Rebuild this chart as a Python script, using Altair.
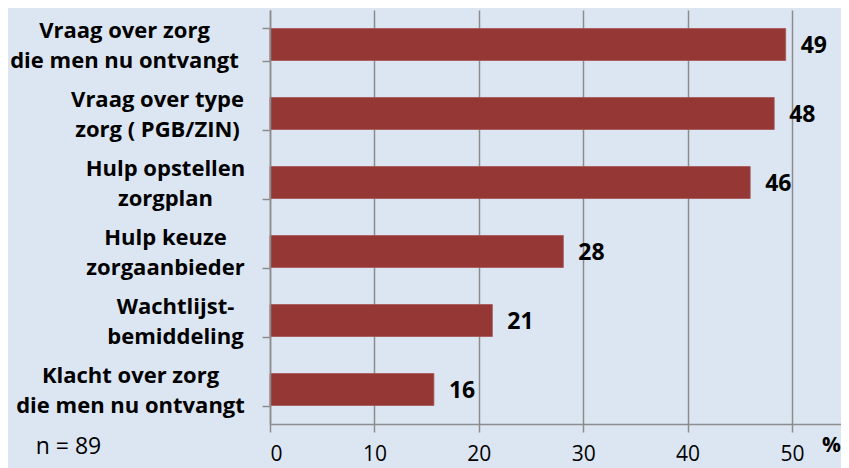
import altair as alt
import pandas as pd

# ---- data ----
categories = [
    "Vraag over zorg\ndie men nu ontvangt",
    "Vraag over type\nzorg ( PGB/ZIN)",
    "Hulp opstellen\nzorgplan",
    "Hulp keuze\nzorgaanbieder",
    "Wachtlijst-\nbemiddeling",
    "Klacht over zorg\ndie men nu ontvangt",
]
values = [49.4, 48.3, 46.0, 28.1, 21.3, 15.7]
value_labels = ["49", "48", "46", "28", "21", "16"]
x_ticks = [0, 10, 20, 30, 40, 50]
sample_note = "n = 89"
unit_label = "%"

# ---- style ----
FONT = "Open Sans"
BG = "#dce6f2"
BAR = "#953735"
GRID = "#8c8c8c"

# label blocks are centred like the original; padding per group (style only)
label_groups = [
    (["Vraag over zorg"], 138),
    (["Klacht over zorg"], 132),
    (["Vraag over type"], 105),
    (["Hulp opstellen", "Hulp keuze"], 97),
    (["Wachtlijst-"], 87),
]

df = pd.DataFrame({"cat": categories, "value": values, "label": value_labels})

y_scale = alt.Scale(domain=categories, paddingInner=0.536, paddingOuter=0.268)
x_scale = alt.Scale(domain=[0, 54.7], nice=False)


def y_axis(names, pad, primary):
    lst = ",".join("'" + n + "'" for n in names)
    expr = ("indexof([" + lst + "], split(datum.value, '\\n')[0]) >= 0 ? "
            "split(datum.value, '\\n') : ''")
    kw = dict(
        labelExpr=expr, labelPadding=pad, labelAlign="center", labelBaseline="middle",
        labelOffset=-14,
        labelFont=FONT, labelFontSize=22, labelFontWeight="bold", labelColor="black",
        labelLineHeight=30, labelLimit=500, tickBand="extent", tickSize=8, ticks=True,
        orient="left", grid=False, tickColor=GRID, tickWidth=1.5,
    )
    if primary:
        kw.update(domain=True, domainColor=GRID, domainWidth=1.5, zindex=1,
                  title=sample_note, titleAngle=0, titleX=-202, titleY=436,
                  titleAlign="center", titleBaseline="middle", titleFont=FONT,
                  titleFontSize=23, titleFontWeight="normal", titleColor="black")
    else:
        kw.update(domain=False, tickOpacity=0, title=None)
    return alt.Axis(**kw)


def x_axis():
    return alt.Axis(
        values=x_ticks, grid=True, gridColor=GRID, gridWidth=1.5,
        domainColor=GRID, domainWidth=1.5, tickColor=GRID, tickWidth=1.5, tickSize=8,
        labelFont=FONT, labelFontSize=21, labelColor="black", labelPadding=11,
        title=unit_label, titleX=561, titleY=21, titleAlign="center",
        titleBaseline="middle", titleFont=FONT, titleFontSize=21,
        titleFontWeight="bold", titleColor="black",
    )


first_names, first_pad = label_groups[0]
bars = alt.Chart(df).mark_bar(color=BAR, stroke="#a55553", strokeWidth=0.8).encode(
    x=alt.X("value:Q", scale=x_scale, axis=x_axis()),
    y=alt.Y("cat:N", sort=categories, scale=y_scale, axis=y_axis(first_names, first_pad, True)),
)

text = alt.Chart(df).mark_text(
    align="left", baseline="middle", dx=15, dy=1, font=FONT, fontSize=23,
    fontWeight="bold", color="black",
).encode(
    x=alt.X("value:Q", scale=x_scale, axis=x_axis()),
    y=alt.Y("cat:N", sort=categories, scale=y_scale, axis=None),
    text="label:N",
)

extra = []
for names, pad in label_groups[1:]:
    extra.append(
        alt.Chart(df).mark_bar(opacity=0).encode(
            x=alt.X("value:Q", scale=x_scale, axis=x_axis()),
            y=alt.Y("cat:N", sort=categories, scale=y_scale, axis=y_axis(names, pad, False)),
        )
    )

chart = alt.layer(bars, text, *extra).resolve_axis(y="independent").properties(
    width=571,
    height=414,
    autosize=alt.AutoSizeParams(type="none"),
    padding={"left": 262, "top": 2, "right": 0, "bottom": 44},
    background=BG,
).configure_view(stroke=None)

chart.save("out.html", embed_options={"renderer": "svg", "actions": False})
